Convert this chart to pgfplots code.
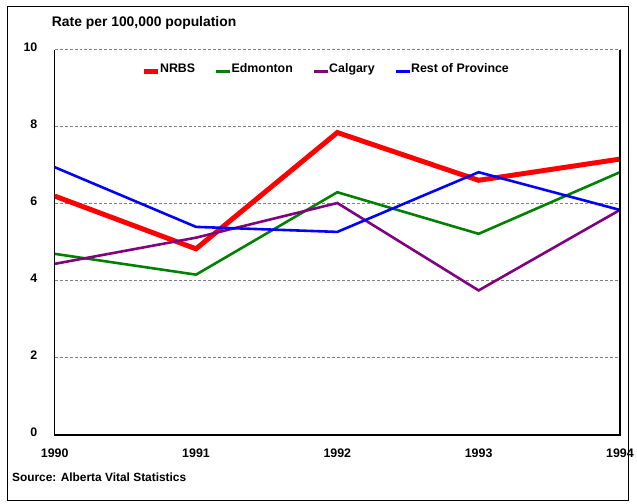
\documentclass[border=0pt]{standalone}
\usepackage{fontspec}
\setmainfont{Liberation Sans}
\usepackage{pgfplots}
\pgfplotsset{compat=1.18}
\definecolor{cgreen}{RGB}{0,128,0}
\definecolor{cpurple}{RGB}{128,0,128}
\begin{document}
\begin{tikzpicture}[x=1bp,y=1bp]
\begin{axis}[
  at={(0,0)}, anchor=origin,
  scale only axis, width=568bp, height=387bp,
  xmin=1990, xmax=1994, ymin=0, ymax=10,
  xtick={1990,1991,1992,1993,1994},
  xticklabels={1990,1991,1992,1993,1994},
  ytick={0,2,4,6,8,10},
  major tick length=0pt,
  ymajorgrids,
  grid style={densely dashed, gray, line width=0.8pt},
  axis line style={draw=none},
  /pgf/number format/assume math mode=true,
  ticklabel style={font=\fontsize{12.5}{14}\selectfont\bfseries},
  yticklabel style={xshift=-14bp, yshift=3bp},
  xticklabel style={yshift=-11bp},
  legend style={at={(rel axis cs:0.48,0.975)}, anchor=north, draw=none, fill=none,
    font=\fontsize{12.5}{14}\selectfont\bfseries, legend columns=4,
    /tikz/every odd column/.append style={column sep=-2bp},
    /tikz/every even column/.append style={column sep=18bp}},
  legend image code/.code={\draw[#1] (0bp,-3bp) -- (14bp,-3bp);},
  clip=false,
]
\addplot[red, line width=5bp] coordinates {(1990,6.2) (1991,4.83) (1992,7.85) (1993,6.61) (1994,7.16)};
\addlegendentry{NRBS}
\addplot[cgreen, line width=2.6bp] coordinates {(1990,4.70) (1991,4.16) (1992,6.30) (1993,5.22) (1994,6.82)};
\addlegendentry{Edmonton}
\addplot[cpurple, line width=2.6bp] coordinates {(1990,4.44) (1991,5.12) (1992,6.02) (1993,3.75) (1994,5.84)};
\addlegendentry{Calgary}
\addplot[blue, line width=2.6bp] coordinates {(1990,6.95) (1991,5.40) (1992,5.27) (1993,6.82) (1994,5.84)};
\addlegendentry{Rest of Province}
\draw[black, line width=1.5pt] (rel axis cs:0,1) -- (rel axis cs:0,0) -- (rel axis cs:1,0) -- (rel axis cs:1,1);
\node[anchor=south west, font=\fontsize{14}{16}\selectfont\bfseries, inner sep=0pt] at ([xshift=-3bp,yshift=20bp]rel axis cs:0,1) {Rate per 100,000 population};
\end{axis}
\path (-55bp,-69bp) rectangle (582bp,437bp);
\draw[line width=1pt] (-47bp,-66bp) rectangle (577bp,430bp);
\node[anchor=west, font=\fontsize{12}{14}\selectfont\bfseries, inner sep=0pt] at (-43bp,-43bp) {Source: Alberta Vital Statistics};
\end{tikzpicture}
\end{document}
